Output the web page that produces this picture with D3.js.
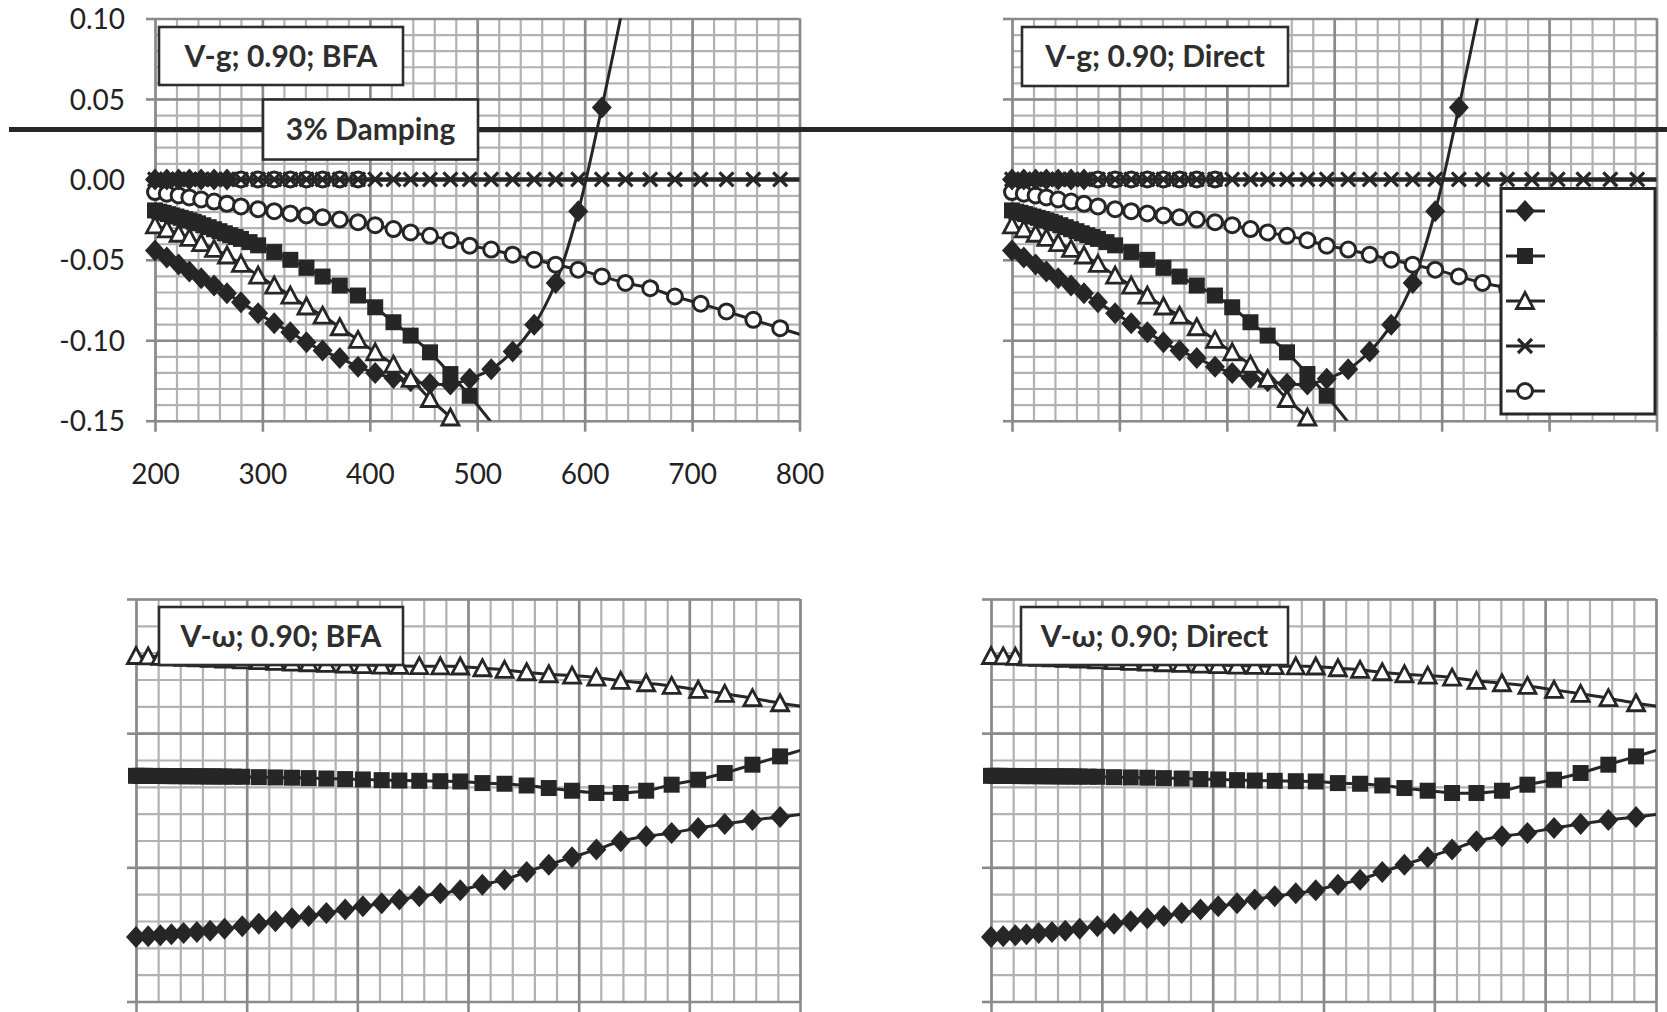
<!DOCTYPE html>
<html>
<head>
<meta charset="utf-8">
<script src="https://cdn.jsdelivr.net/npm/d3@7"></script>
<style>
  body { margin: 0; background: #ffffff; }
  svg { display: block; }
  text { font-family: Lato, "Open Sans", "DejaVu Sans", sans-serif; }
</style>
</head>
<body>
<svg id="chart" width="1667" height="1012"></svg>
<script>
// ---------------- DATA ----------------
// speed grid (x values) shared by most series
const speeds = [200, 211, 222, 232, 243, 255, 267, 280, 296, 311, 326, 341, 356, 372, 389, 405, 422, 438, 456, 475, 493, 513, 533, 553, 573, 594, 616, 638, 661, 684, 708, 732, 757, 782, 806];
// denser speed sampling used by the square series
const speedsSq = [200, 204, 208, 212, 216, 220, 224, 228, 232, 236, 240, 245, 250, 255, 260, 265, 270, 275, 280, 288, 296, 311, 326, 341, 356, 372, 389, 405, 422, 438, 456, 475, 493, 513, 533, 553, 573, 594, 616, 638, 661, 684, 708, 732, 757, 782, 806];

// V-g damping values
const gMode1 = [-0.0442, -0.0486, -0.0529, -0.0573, -0.0614, -0.0660, -0.0708, -0.0764, -0.0832, -0.0894, -0.0950, -0.1013, -0.1064, -0.1110, -0.1164, -0.1204, -0.1235, -0.1255, -0.1270, -0.1275, -0.1240, -0.1180, -0.1070, -0.0904, -0.0644, -0.0198, 0.0447, 0.1150];
const gMode2 = [-0.0193, -0.0201, -0.0208, -0.0216, -0.0224, -0.0231, -0.0239, -0.0247, -0.0255, -0.0264, -0.0273, -0.0285, -0.0297, -0.0310, -0.0322, -0.0335, -0.0347, -0.0358, -0.0370, -0.0390, -0.0410, -0.0452, -0.0500, -0.0550, -0.0604, -0.0660, -0.0722, -0.0795, -0.0888, -0.0971, -0.1075, -0.1210, -0.1345, -0.1510];
const gMode3 = [-0.0286, -0.0311, -0.0338, -0.0363, -0.0396, -0.0432, -0.0473, -0.0525, -0.0598, -0.0660, -0.0722, -0.0790, -0.0847, -0.0919, -0.0998, -0.1075, -0.1152, -0.1240, -0.1365, -0.1480, -0.1620];
const gMode4 = [0, 0, 0, 0, 0, 0, 0, 0, 0, 0, 0, 0, 0, 0, 0, 0, 0, 0, 0, 0, 0, 0, 0, 0, 0, 0, 0, 0, 0, 0, 0, 0, 0, 0, 0];
const gMode5 = [-0.0079, -0.0089, -0.0100, -0.0112, -0.0125, -0.0138, -0.0152, -0.0168, -0.0185, -0.0198, -0.0212, -0.0224, -0.0236, -0.0250, -0.0266, -0.0285, -0.0309, -0.0330, -0.0351, -0.0378, -0.0412, -0.0436, -0.0468, -0.0499, -0.0530, -0.0561, -0.0603, -0.0644, -0.0676, -0.0728, -0.0773, -0.0821, -0.0873, -0.0925, -0.0975];
// extra zero-damping points on the 0.00 line (low speeds)
const gZeroDiamond = [0, 0, 0, 0, 0, 0, 0];          // speeds[0..6]
const gZeroCircle = [0, 0, 0, 0, 0, 0, 0, 0];        // speeds[7..14]
const dampingLimit = 0.031;  // "3% Damping" reference line

// V-omega frequency values (axis unlabeled)
const wMode1 = [4.80, 4.86, 4.93, 5.02, 5.10, 5.18, 5.28, 5.42, 5.60, 5.80, 5.98, 6.20, 6.38, 6.60, 6.85, 7.10, 7.32, 7.60, 7.85, 8.06, 8.30, 8.71, 9.08, 9.66, 10.20, 10.75, 11.32, 11.94, 12.31, 12.56, 12.93, 13.23, 13.53, 13.75, 14.00];
const wMode2 = [16.82, 16.82, 16.82, 16.81, 16.81, 16.81, 16.81, 16.80, 16.80, 16.80, 16.80, 16.79, 16.79, 16.79, 16.78, 16.78, 16.78, 16.77, 16.77, 16.76, 16.75, 16.72, 16.70, 16.68, 16.65, 16.62, 16.58, 16.55, 16.50, 16.47, 16.45, 16.42, 16.40, 16.28, 16.23, 16.10, 15.91, 15.71, 15.54, 15.54, 15.71, 16.16, 16.53, 17.03, 17.65, 18.27, 18.85];
const wMode3 = [25.75, 25.72, 25.69, 25.66, 25.62, 25.58, 25.54, 25.49, 25.43, 25.37, 25.31, 25.26, 25.21, 25.16, 25.11, 25.07, 25.04, 25.01, 24.99, 24.98, 24.97, 24.84, 24.72, 24.54, 24.39, 24.29, 24.14, 23.90, 23.72, 23.52, 23.23, 22.93, 22.61, 22.23, 21.95];

// axis domains / tick labels
const speedDomain = [200, 800];
const gDomain = [-0.15, 0.10];
const wDomain = [0, 30];
const titles = ["V-g; 0.90; BFA", "V-g; 0.90; Direct", "V-\u03c9; 0.90; BFA", "V-\u03c9; 0.90; Direct"];
const dampingLabel = "3% Damping";
const legendMarkers = ["diamond", "square", "triangle", "x", "circle"];

// ---------------- DRAWING ----------------
const INK = "#262626";
const svg = d3.select("#chart");
const defs = svg.append("defs");

function markerPath(type) {
  switch (type) {
    case "diamond": return "M0,-11L10,0L0,11L-10,0Z";
    case "square": return "M-8,-8H8V8H-8Z";
    case "triangle": return "M0,-8.5L8.5,7.5L-8.5,7.5Z";
    case "x": return "M-7,-7L7,7M7,-7L-7,7";
    default: return null;
  }
}
function drawMarker(sel, type) {
  if (type === "circle") {
    sel.append("circle").attr("r", 7.5).attr("fill", "#fff").attr("stroke", INK).attr("stroke-width", 3);
  } else if (type === "triangle") {
    sel.append("path").attr("d", markerPath(type)).attr("fill", "#fff").attr("stroke", INK).attr("stroke-width", 2.8).attr("stroke-linejoin", "miter");
  } else if (type === "x") {
    sel.append("path").attr("d", markerPath(type)).attr("fill", "none").attr("stroke", INK).attr("stroke-width", 3.2);
  } else {
    sel.append("path").attr("d", markerPath(type)).attr("fill", INK).attr("stroke", "none");
  }
}

const zip = (xs, ys) => ys.map((v, i) => [xs[i], v]);

const gSeries = [
  { pts: zip(speeds, gMode1), marker: "diamond", w: 3 },
  { pts: zip(speedsSq, gMode2), marker: "square", w: 3 },
  { pts: zip(speeds, gMode3), marker: "triangle", w: 3 },
  { pts: zip(speeds.slice(7), gZeroCircle), marker: "circle", w: 3 },
  { pts: zip(speeds, gMode5), marker: "circle", w: 3 },
  { pts: zip(speeds, gZeroDiamond), marker: "diamond", w: 3 },
  { pts: zip(speeds, gMode4), marker: "x", w: 4.5 },
];
const wSeries = [
  { pts: zip(speeds, wMode1), marker: "diamond", w: 3 },
  { pts: zip(speedsSq, wMode2), marker: "square", w: 3 },
  { pts: zip(speeds, wMode3), marker: "triangle", w: 3 },
];

const panels = [
  { kind: "g", left: 155, right: 799.5, top: 18.5, bottom: 420.7, title: titles[0], box: [159, 27, 244, 58], labels: true },
  { kind: "g", left: 1012, right: 1656.5, top: 18.5, bottom: 420.7, title: titles[1], box: [1022, 27, 266, 59], labels: false },
  { kind: "w", left: 136, right: 800, top: 599, bottom: 1001.5, title: titles[2], box: [159, 607, 244, 58], labels: false },
  { kind: "w", left: 991, right: 1656, top: 599, bottom: 1001.5, title: titles[3], box: [1021, 607, 267, 58], labels: false },
];

let topLeftY = null;

panels.forEach((p, pi) => {
  const x = d3.scaleLinear().domain(speedDomain).range([p.left, p.right]);
  const y = d3.scaleLinear().domain(p.kind === "g" ? gDomain : wDomain).range([p.bottom, p.top]);
  if (pi === 0) topLeftY = y;
  const H = p.bottom - p.top, W = p.right - p.left;
  const g = svg.append("g");
  const minorY = p.kind === "g" ? 25 : 15;
  const majorY = p.kind === "g" ? 5 : 3;

  // minor grid
  g.append("g").attr("transform", `translate(0,${p.bottom})`)
    .call(d3.axisBottom(x).ticks(30).tickSize(-H).tickFormat(""))
    .call(a => a.select(".domain").remove())
    .call(a => a.selectAll("line").attr("stroke", "#b2b2b2").attr("stroke-width", 2.2));
  g.append("g").attr("transform", `translate(${p.left},0)`)
    .call(d3.axisLeft(y).ticks(minorY).tickSize(-W).tickFormat(""))
    .call(a => a.select(".domain").remove())
    .call(a => a.selectAll("line").attr("stroke", "#b2b2b2").attr("stroke-width", 2.2));
  // major grid + outer tick marks
  g.append("g").attr("transform", `translate(0,${p.bottom})`)
    .call(d3.axisBottom(x).ticks(6).tickSize(-H).tickFormat(""))
    .call(a => a.select(".domain").remove())
    .call(a => a.selectAll("line").attr("stroke", "#8a8a8a").attr("stroke-width", 2.6));
  g.append("g").attr("transform", `translate(${p.left},0)`)
    .call(d3.axisLeft(y).ticks(majorY).tickSize(-W).tickFormat(""))
    .call(a => a.select(".domain").remove())
    .call(a => a.selectAll("line").attr("stroke", "#8a8a8a").attr("stroke-width", 2.6));

  const xAxis = g.append("g").attr("transform", `translate(0,${p.bottom})`)
    .call(d3.axisBottom(x).ticks(6).tickSize(11).tickPadding(0)
      .tickFormat(p.labels ? d3.format("d") : ""))
    .call(a => a.select(".domain").remove())
    .call(a => a.selectAll("line").attr("stroke", "#8a8a8a").attr("stroke-width", 2.6));
  xAxis.selectAll("text").attr("y", 53).attr("dy", "0.36em")
    .attr("font-size", 28).attr("fill", "#222").attr("font-family", "Lato");

  const yAxis = g.append("g").attr("transform", `translate(${p.left},0)`)
    .call(d3.axisLeft(y).ticks(majorY).tickSize(9).tickPadding(21)
      .tickFormat(p.labels ? (d => (Math.abs(d) < 1e-9 ? 0 : d).toFixed(2)) : ""))
    .call(a => a.select(".domain").remove())
    .call(a => a.selectAll("line").attr("stroke", "#8a8a8a").attr("stroke-width", 2.6));
  yAxis.selectAll("text").attr("dy", "0.36em")
    .attr("font-size", 28).attr("fill", "#222").attr("font-family", "Lato");

  // clip for lines
  const cid = "clip" + pi;
  defs.append("clipPath").attr("id", cid).append("rect")
    .attr("x", p.left).attr("y", p.top).attr("width", W).attr("height", H);

  const series = p.kind === "g" ? gSeries : wSeries;
  const line = d3.line().x(d => x(d[0])).y(d => y(d[1])).curve(d3.curveCatmullRom.alpha(0.5));
  const dom = y.domain();
  series.forEach(s => {
    g.append("path").attr("d", line(s.pts)).attr("fill", "none")
      .attr("stroke", INK).attr("stroke-width", s.w).attr("clip-path", `url(#${cid})`);
    const inside = s.pts.filter(d => d[0] >= speedDomain[0] && d[0] <= speedDomain[1] && d[1] >= dom[0] - 1e-9 && d[1] <= dom[1] + 1e-9);
    inside.forEach(d => {
      const m = g.append("g").attr("transform", `translate(${x(d[0])},${y(d[1])})`);
      drawMarker(m, s.marker);
    });
  });

  // title box
  const [bx, by, bw, bh] = p.box;
  g.append("rect").attr("x", bx).attr("y", by).attr("width", bw).attr("height", bh)
    .attr("fill", "#fff").attr("stroke", "#2e2e2e").attr("stroke-width", 2.6);
  g.append("text").attr("x", bx + bw / 2).attr("y", by + bh / 2).attr("dy", "0.36em")
    .attr("text-anchor", "middle").attr("font-size", 30).attr("font-weight", 700)
    .attr("fill", "#2e2e2e").text(p.title);
});

// 3% damping reference line across the figure
const dy = topLeftY(dampingLimit);
svg.append("line").attr("x1", 9).attr("x2", 1667).attr("y1", dy).attr("y2", dy)
  .attr("stroke", INK).attr("stroke-width", 4.8);
svg.append("rect").attr("x", 263).attr("y", dy - 30).attr("width", 215).attr("height", 60)
  .attr("fill", "#fff").attr("stroke", "#2e2e2e").attr("stroke-width", 2.6);
svg.append("text").attr("x", 370.5).attr("y", dy).attr("dy", "0.36em")
  .attr("text-anchor", "middle").attr("font-size", 30).attr("font-weight", 700)
  .attr("fill", "#2e2e2e").text(dampingLabel);

// legend (top-right panel)
const lg = svg.append("g");
lg.append("rect").attr("x", 1501).attr("y", 188.5).attr("width", 154).attr("height", 225.5)
  .attr("fill", "#fff").attr("stroke", INK).attr("stroke-width", 3);
legendMarkers.forEach((m, i) => {
  const ly = 211 + i * 45;
  lg.append("line").attr("x1", 1506).attr("x2", 1545).attr("y1", ly).attr("y2", ly)
    .attr("stroke", INK).attr("stroke-width", 3);
  drawMarker(lg.append("g").attr("transform", `translate(1525,${ly})`), m);
});
</script>
</body>
</html>
